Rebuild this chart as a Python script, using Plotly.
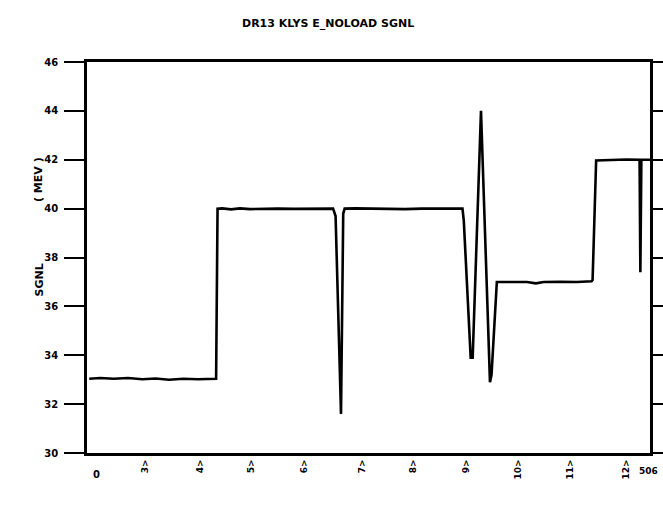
import plotly.graph_objects as go

# Signal trace (sample index vs SGNL in MeV)
sample = [0, 10, 22, 35, 48, 60, 72, 85, 98, 108, 114.5, 115.8,
          120, 128, 136, 145, 155, 170, 185, 200, 212, 220, 222.3, 227.2, 229.2, 230.5,
          240, 255, 270, 285, 300, 315, 330, 336.8, 338, 344.2, 346, 353.5, 361.6, 363, 367.8,
          380, 395, 403, 410, 425, 440, 453.3, 454.2, 457.4,
          470, 485, 496.6, 497.3, 498.2, 506]
sgnl = [33.04, 33.07, 33.04, 33.07, 33.02, 33.05, 33.0, 33.04, 33.02, 33.04, 33.04, 40.0,
        40.01, 39.97, 40.01, 39.98, 40.0, 40.0, 39.99, 40.0, 40.01, 40.0, 39.7, 31.6, 39.8, 40.0,
        40.01, 39.99, 40.0, 39.98, 40.0, 39.99, 40.0, 40.0, 39.5, 33.9, 33.9, 44.0, 32.9, 33.2, 37.0,
        37.01, 37.0, 36.94, 37.0, 37.01, 37.0, 37.03, 37.08, 41.97,
        42.0, 42.01, 42.0, 37.4, 42.0, 42.0]

y_ticks = [30, 32, 34, 36, 38, 40, 42, 44, 46]
x_tickvals = [50, 100, 146, 194, 246, 292, 340, 387, 434, 484]
x_ticktext = ["3>", "4>", "5>", "6>", "7>", "8>", "9>", "10>", "11>", "12>"]
title_text = "DR13 KLYS E_NOLOAD SGNL"

FONT = "DejaVu Sans"
L, R, T, B = 87, 650, 62, 453
PW, PH = R - L, B - T


def px(xp):
    return (xp - L) / PW


def py(yp):
    return (B - yp) / PH


fig = go.Figure()
fig.add_trace(go.Scatter(x=sample, y=sgnl, mode="lines",
                         line=dict(color="black", width=2.6), showlegend=False))
# invisible trace to activate right axis
fig.add_trace(go.Scatter(x=[sample[0]], y=[sgnl[0]], yaxis="y2", mode="lines",
                         line=dict(width=0), showlegend=False, hoverinfo="skip"))

tick_font = dict(family=FONT, size=10, color="black", weight="bold")
fig.update_layout(
    width=663, height=518,
    margin=dict(l=L, r=663 - R, t=T, b=518 - B, autoexpand=False),
    paper_bgcolor="white", plot_bgcolor="white",
    xaxis=dict(range=[-2, 506], showgrid=False, zeroline=False, automargin=False,
               showline=True, linecolor="black", linewidth=2.5, mirror=True,
               tickmode="array", tickvals=x_tickvals, ticktext=x_ticktext,
               tickangle=-90, ticks="", ticklen=0, tickfont=dict(tick_font, size=9)),
    yaxis=dict(range=[30, 46], showgrid=False, zeroline=False, automargin=False,
               showline=True, linecolor="black", linewidth=2.5, mirror=True,
               tickmode="array", tickvals=y_ticks, ticks="outside", ticklen=20,
               tickwidth=2, tickcolor="black", tickfont=tick_font,
               ticklabelstandoff=4),
    yaxis2=dict(range=[30, 46], overlaying="y", side="right", showgrid=False,
                zeroline=False, showline=False, tickmode="array", automargin=False,
                tickvals=y_ticks, ticks="outside", ticklen=15, tickwidth=2,
                tickcolor="black", showticklabels=False),
    annotations=[
        dict(text=title_text, x=px(328), xref="paper", y=py(15), yref="paper",
             showarrow=False, font=dict(family=FONT, size=11, color="black", weight="bold")),
        dict(text="SGNL", x=px(30), xref="paper", y=py(280), yref="paper",
             showarrow=False, textangle=-90,
             font=dict(family=FONT, size=11, color="black", weight="bold")),
        dict(text="( MEV )", x=px(30), xref="paper", y=py(155), yref="paper",
             showarrow=False, textangle=-90,
             font=dict(family=FONT, size=11, color="black", weight="bold")),
        dict(text="0", x=px(91), xref="paper", y=py(482), yref="paper",
             showarrow=False, font=tick_font),
        dict(text="506", x=px(637), xref="paper", xanchor="left", y=py(478),
             yref="paper", showarrow=False, font=dict(tick_font, size=9)),
    ],
)

fig.write_html("out.html")
